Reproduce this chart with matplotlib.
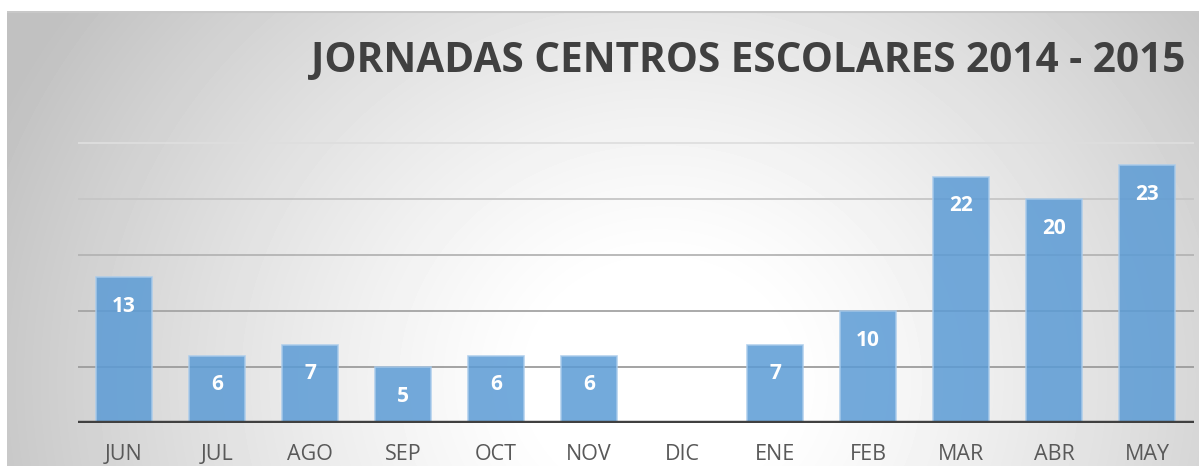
import numpy as np
import matplotlib.pyplot as plt

# datos
meses = ['JUN', 'JUL', 'AGO', 'SEP', 'OCT', 'NOV', 'DIC', 'ENE', 'FEB', 'MAR', 'ABR', 'MAY']
jornadas = [13, 6, 7, 5, 6, 6, 0, 7, 10, 22, 20, 23]
titulo = 'JORNADAS CENTROS ESCOLARES 2014 - 2015'
rejilla = [5, 10, 15, 20, 25]

W, H = 1199, 466
fig = plt.figure(figsize=(W / 100, H / 100), dpi=100)
fig.patch.set_facecolor('white')

# fondo con degradado radial
bx0, by1 = 7, 11
bg = fig.add_axes([bx0 / W, 0, 1 - bx0 / W, 1 - by1 / H])
bg.set_axis_off()
xx, yy = np.meshgrid(np.arange(bx0, W), np.arange(by1, H))
d = np.sqrt(((xx - 660) / 1.0) ** 2 + ((yy - 380) / 0.9) ** 2)
t = np.clip((d - 120) / 600, 0, 1)
val = (255 - 62 * t ** 1.2) / 255
bg.imshow(val, cmap='gray', vmin=0, vmax=1, aspect='auto',
          extent=[0, 1, 0, 1], interpolation='bilinear')
bg.plot([0, 1], [0.997, 0.997], color='#c8c8c8', lw=1.5, transform=bg.transAxes)
bg.set_xlim(0, 1)
bg.set_ylim(0, 1)

# grafico
ax_l, ax_r = 77.5, 1193.5
ax_b, ax_t = 423, 130
ax = fig.add_axes([ax_l / W, 1 - ax_b / H, (ax_r - ax_l) / W, (ax_b - ax_t) / H])
ax.patch.set_alpha(0)
x = np.arange(len(meses))
ymax = 25 * (ax_b - ax_t) / (ax_b - 143)
ax.set_ylim(0, ymax)
ax.set_xlim(-0.5, len(meses) - 0.5)
# las lineas de rejilla se aclaran hacia arriba
grid_cols = ['#9c9c9c', '#a4a4a4', '#b4b4b4', '#c6c6c6', '#dedede']
for g, c in zip(rejilla, grid_cols):
    ax.axhline(g, color=c, lw=1.3, zorder=1)
bars = ax.bar(x, jornadas, width=0.61, color='#5b9bd5', alpha=0.85,
              edgecolor='#a9cbeb', linewidth=1.2, zorder=2)
ax.axhline(0, color='#404040', lw=3.2, zorder=3)

for xi, v in zip(x, jornadas):
    if v > 0:
        ax.annotate(str(v), (xi, v), xytext=(0, -21), textcoords='offset points',
                    ha='center', va='center', color='white', fontsize=15,
                    fontweight='bold', family='Open Sans', zorder=4)

ax.set_xticks(x)
ax.set_xticklabels(meses, fontsize=15.5, color='#595959', family='Open Sans')
ax.tick_params(axis='x', length=0, pad=15)
ax.set_yticks([])
for s in ax.spines.values():
    s.set_visible(False)

fig.text(311 / W, 1 - 72 / H, titulo, fontsize=29.2, fontweight='bold',
         color='#404040', family='Open Sans', ha='left', va='baseline')

fig.savefig('out.png', dpi=100)
